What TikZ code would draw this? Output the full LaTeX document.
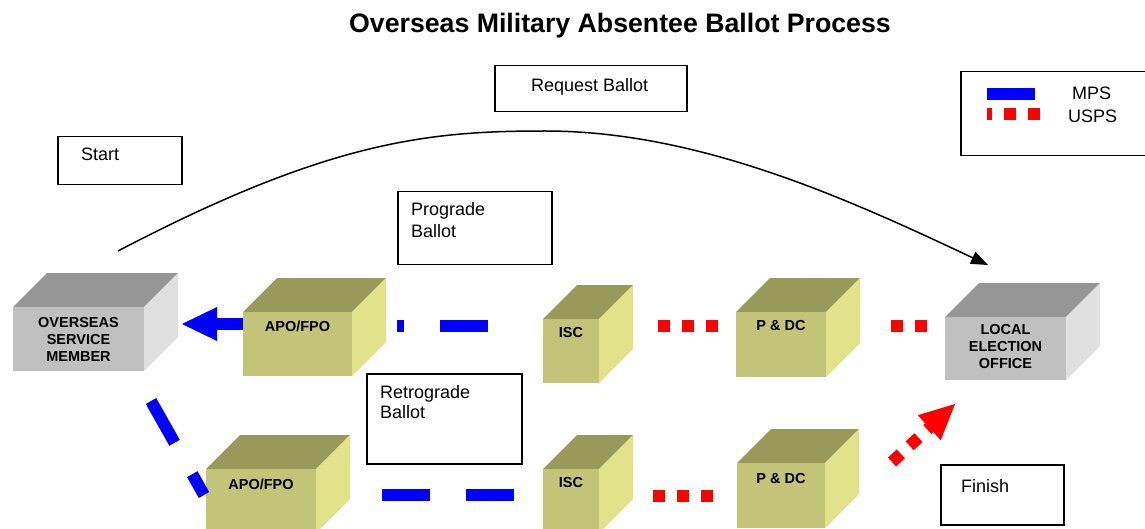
\documentclass[tikz,border=0pt]{standalone}
\usepackage{fontspec}
\setmainfont{Liberation Sans}
\usetikzlibrary{arrows.meta}
\definecolor{greyFront}{RGB}{192,192,192}
\definecolor{greyTop}{RGB}{150,150,150}
\definecolor{greySide}{RGB}{224,224,224}
\definecolor{oliveFront}{RGB}{196,196,120}
\definecolor{oliveTop}{RGB}{153,153,90}
\definecolor{oliveSide}{RGB}{226,226,138}
\tikzset{
  txtbox/.style={draw, line width=1.5pt, fill=white},
  txt/.style={font=\fontsize{18}{22}\selectfont, align=left, inner sep=0pt},
  cratelbl/.style={font=\bfseries\fontsize{14.5}{17}\selectfont, align=center, inner sep=0pt},
  mps/.style={draw=blue, line width=12pt, dash pattern=on 48pt off 36pt},
  usps/.style={draw=red, line width=12pt, dash pattern=on 12pt off 12pt},
}
% crate: name, x, y (front top left), width, height, colour set, label offset, label
\newcommand{\crate}[8]{%
  \fill[#6Top] (#2,#3) -- ++(34,-34) -- ++(#4,0) -- ++(-34,34) -- cycle;
  \fill[#6Side] (#2+#4,#3) -- ++(34,-34) -- ++(0,#5) -- ++(-34,34) -- cycle;
  \fill[#6Front] (#2,#3) rectangle ++(#4,#5);
  \node[cratelbl] (#1) at (#2+#4/2,#3+#7) {#8};
}

\begin{document}
\begin{tikzpicture}[x=1pt,y=-1pt]
\clip (0,0) rectangle (1145,529);
\node[font=\bfseries\fontsize{26.7}{30}\selectfont, anchor=base] (title) at (620,33) {Overseas Military Absentee Ballot Process};

% text boxes
\node[txtbox, minimum width=192pt, minimum height=46pt, anchor=north west] (reqBox) at (494,65) {};
\node[txt, anchor=north west] (reqTxt) at (531,78.6) {Request Ballot};
\node[txtbox, minimum width=124pt, minimum height=48pt, anchor=north west] (startBox) at (57,136) {};
\node[txt, anchor=north west] (startTxt) at (81,147.6) {Start};
\node[txtbox, minimum width=154pt, minimum height=73pt, anchor=north west] (proBox) at (397,191) {};
\node[txt, anchor=north west] (proTxt) at (411,202.6) {Prograde\\Ballot};
\node[txtbox, minimum width=155pt, minimum height=90pt, anchor=north west] (retroBox) at (366,373) {};
\node[txt, font=\fontsize{18}{20}\selectfont, anchor=north west] (retroTxt) at (380,385.6) {Retrograde\\Ballot};
\node[txtbox, minimum width=123pt, minimum height=60pt, anchor=north west] (finishBox) at (940,464) {};
\node[txt, anchor=north west] (finishTxt) at (961,479.6) {Finish};

% legend
\node[txtbox, minimum width=190pt, minimum height=84pt, anchor=north west] (legend) at (960,71) {};
\coordinate (legA) at (987,94);
\coordinate (legB) at (1035,94);
\coordinate (legC) at (987,114);
\coordinate (legD) at (1040,114);
\draw[mps, dash pattern={}] (legA) -- (legB);
\draw[usps, dash phase=7pt] (legC) -- (legD);
\node[txt, anchor=north west] (mpsTxt) at (1072,86.6) {MPS};
\node[txt, anchor=north west] (uspsTxt) at (1068,109.6) {USPS};

% offices
\crate{osm}{13}{307}{131}{64}{grey}{32}{OVERSEAS\\SERVICE\\MEMBER}
\crate{apoA}{243}{312}{109}{64}{olive}{14}{APO/FPO}
\crate{iscA}{543}{319}{56}{64}{olive}{14}{ISC}
\crate{pdcA}{736}{312}{90}{65}{olive}{14}{P \& DC}
\crate{leo}{945}{317}{121}{63}{grey}{30}{LOCAL\\ELECTION\\OFFICE}
\crate{apoB}{206}{469}{110}{64}{olive}{15}{APO/FPO}
\crate{iscB}{543}{469}{56}{64}{olive}{14}{ISC}
\crate{pdcB}{737}{463}{88}{65}{olive}{16}{P \& DC}

% request ballot path
\coordinate (reqFrom) at (118,251);
\coordinate (reqTop) at (545,131);
\coordinate (reqTo) at (988,265);
\draw[line width=1.5pt, -{Triangle[length=17pt,width=13pt]}] (reqFrom) .. controls (330,140) and (430,131) .. (reqTop) .. controls (700,131) and (850,200) .. (reqTo);

% prograde ballot
\coordinate (proA) at (243,324);
\coordinate (proB) at (182,324);
\coordinate (proC) at (397,326);
\coordinate (proD) at (488,326);
\coordinate (proE) at (658,326);
\coordinate (proF) at (718,326);
\coordinate (proG) at (891,326);
\coordinate (proH) at (927,326);
\draw[blue, line width=12pt, -{Triangle[length=35pt,width=34pt,line width=0pt]}] (proA) -- (proB);
\draw[mps, dash phase=41pt] (proC) -- (proD);
\draw[usps] (proE) -- (proF);
\draw[usps] (proG) -- (proH);

% retrograde ballot
\coordinate (retA) at (151,401);
\coordinate (retB) at (204,495);
\coordinate (retC) at (382,495);
\coordinate (retD) at (514,495);
\coordinate (retE) at (653,496);
\coordinate (retF) at (713,496);
\coordinate (retG) at (892,462);
\coordinate (retH) at (955,404);
\draw[mps] (retA) -- (retB);
\draw[mps] (retC) -- (retD);
\draw[usps] (retE) -- (retF);
\draw[usps, -{Triangle[length=35pt,width=34pt,line width=0pt]}] (retG) -- (retH);
\end{tikzpicture}
\end{document}
